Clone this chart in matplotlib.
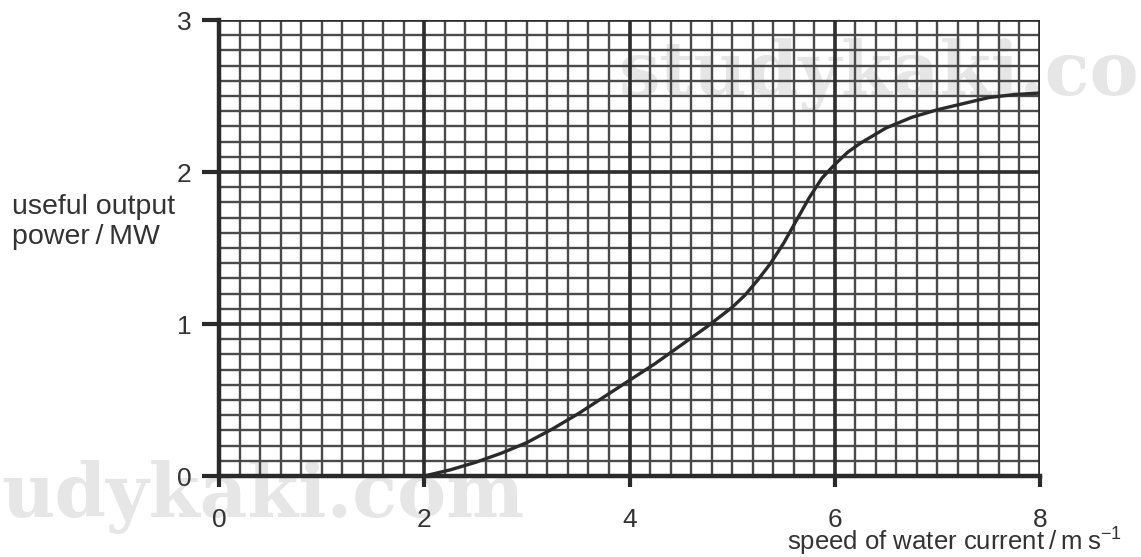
import numpy as np
import matplotlib.pyplot as plt

plt.rcParams['font.family'] = ['Liberation Sans', 'DejaVu Sans']
plt.rcParams['mathtext.default'] = 'regular'

# curve
speed = [2.0, 2.25, 2.5, 2.75, 3.0, 3.25, 3.5, 3.75, 4.0, 4.25, 4.5, 4.75,
         5.0, 5.125, 5.25, 5.375, 5.5, 5.625, 5.75, 5.875, 6.0, 6.125, 6.25,
         6.5, 6.75, 7.0, 7.25, 7.5, 7.75, 8.0]
power = [0.0, 0.04, 0.09, 0.15, 0.22, 0.31, 0.41, 0.52, 0.63, 0.74, 0.86, 0.98,
         1.11, 1.19, 1.29, 1.40, 1.53, 1.68, 1.83, 1.96, 2.05, 2.13, 2.19,
         2.29, 2.36, 2.41, 2.45, 2.49, 2.51, 2.52]

x_ticks = [0, 2, 4, 6, 8]
y_ticks = [0, 1, 2, 3]

fig = plt.figure(figsize=(11.41, 5.57), dpi=100)
ax = fig.add_axes([0.192, 0.1454, 0.7195, 0.8186])
ax.set_facecolor('none')

# watermarks (only the visible parts)
wm = dict(family='DejaVu Serif', fontweight='bold', color='#e6e6e6', fontsize=53, zorder=-1)
fig.text(1139 / 1141, 1 - 75 / 557, 'studykaki.co', ha='right', va='center', **wm)
fig.text(1 / 1141, 1 - 497 / 557, 'udykaki.com', ha='left', va='center', **wm)

# graph paper
for xv in np.arange(0, 8.01, 0.2):
    ax.axvline(xv, color='#4a4a4a', lw=1.7, zorder=1)
for yv in np.arange(0, 3.001, 0.1):
    ax.axhline(yv, color='#4a4a4a', lw=1.7, zorder=1)
for xv in x_ticks:
    ax.axvline(xv, color='#2e2e2e', lw=2.6, zorder=2)
for yv in y_ticks:
    ax.axhline(yv, color='#2e2e2e', lw=2.6, zorder=2)

ax.plot(speed, power, color='#2a2a2a', lw=2.4, zorder=3,
        solid_capstyle='round', solid_joinstyle='round')

ax.set_xlim(0, 8)
ax.set_ylim(0, 3)
ax.set_xticks(x_ticks)
ax.set_yticks(y_ticks)
for s in ax.spines.values():
    s.set_visible(False)
for side in ['left', 'bottom']:
    ax.spines[side].set_visible(True)
    ax.spines[side].set_linewidth(3.2)
    ax.spines[side].set_color('#2a2a2a')
ax.tick_params(axis='y', length=12, width=3, color='#2a2a2a', labelsize=19, pad=8, labelcolor='#333333')
ax.tick_params(axis='x', length=8, width=3, color='#2a2a2a', labelsize=19, pad=15, labelcolor='#333333')

fig.text(1122 / 1141, 1 - 542 / 557, 'speed of water current\u2009/\u2009m\u2009s$^{-1}$',
         ha='right', va='center', fontsize=18.5, color='#333333')
fig.text(12 / 1141, 1 - 222 / 557, 'useful output\npower\u2009/\u2009MW', ha='left', va='center',
         fontsize=20.5, color='#333333', linespacing=1.25)

fig.savefig('out.png', dpi=100)
